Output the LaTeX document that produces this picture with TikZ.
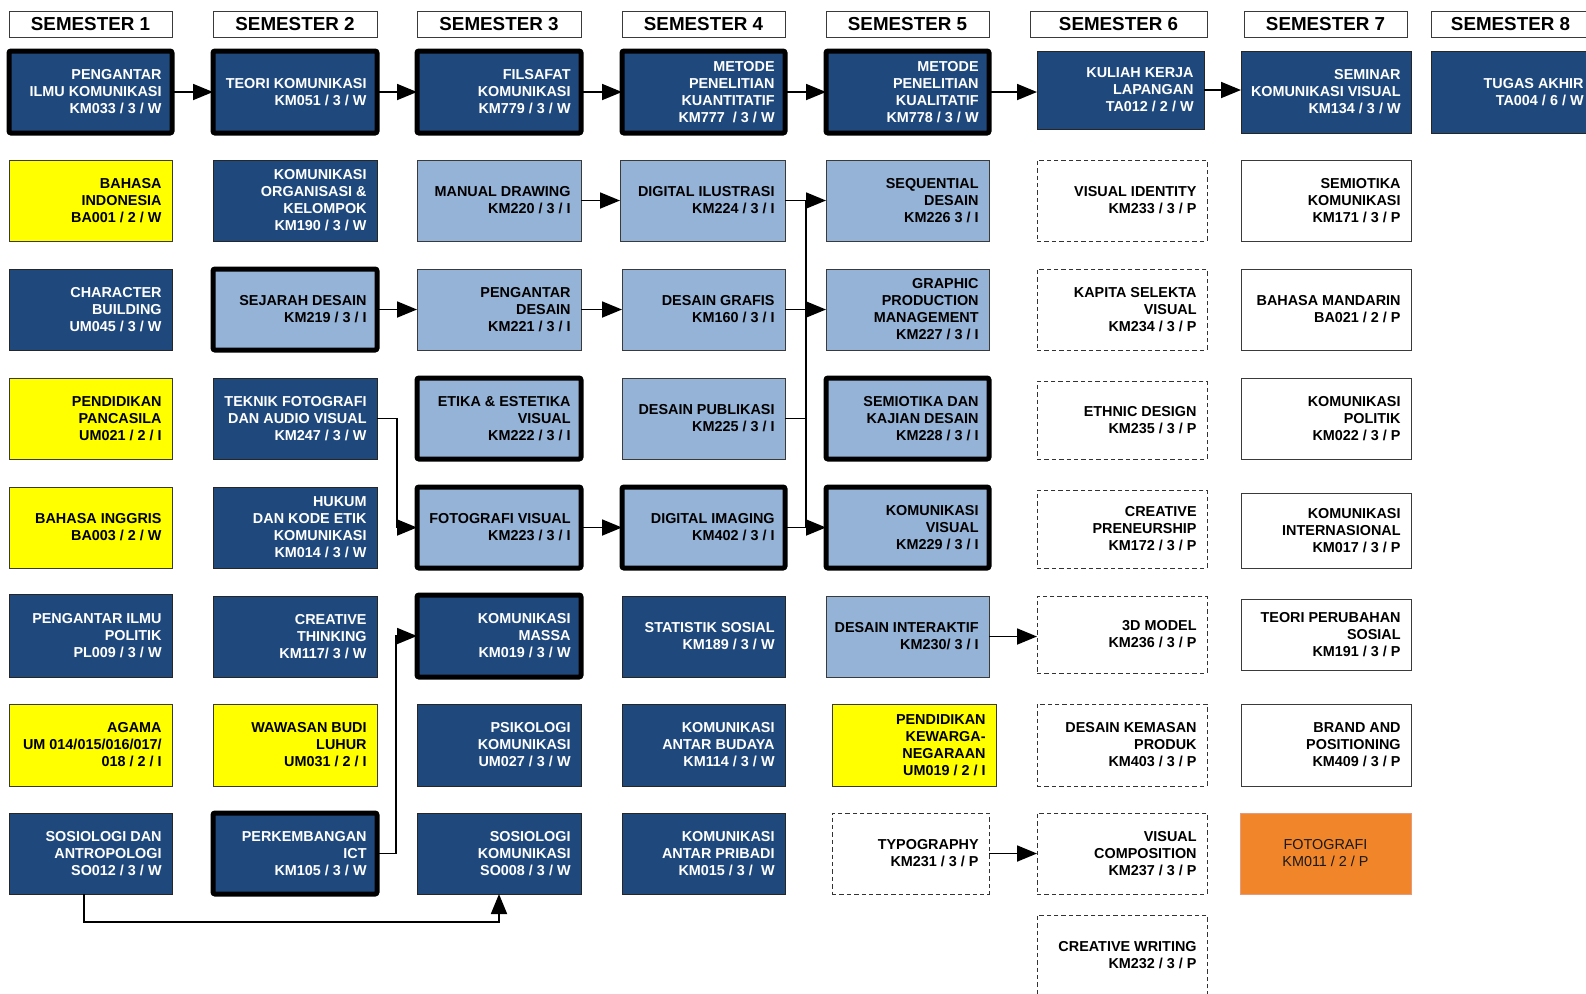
\documentclass[tikz,border=0pt]{standalone}
\usepackage{fontspec}
\setmainfont{Liberation Sans}
\usetikzlibrary{arrows.meta,calc}
\definecolor{dkblue}{HTML}{1F497D}
\definecolor{ltblue}{HTML}{95B3D7}
\definecolor{yel}{HTML}{FFFF00}
\definecolor{orng}{HTML}{F0852A}
\definecolor{orngb}{HTML}{E59A80}
\definecolor{bord}{HTML}{3A3A3A}
\newcommand\crs[8]{% name, x1, y1, x2, y2, box style, text colour, text
  \pgfmathsetlengthmacro\crsw{0.5pt*(#4-#2)}%
  \pgfmathsetlengthmacro\crsh{0.5pt*(#5-#3)}%
  \node[box,#6,minimum width=\crsw,minimum height=\crsh] (#1) at ({(#2+#4)/2},{(#3+#5)/2}) {};
  \node[txt,text=#7] (#1t) at ([xshift=-5pt]#1.east) {#8};}
\newcommand\hdr[4]{%
  \pgfmathsetlengthmacro\crsw{0.5pt*(#3-#2)}%
  \node[hbox,minimum width=\crsw] (#1) at ({(#2+#3)/2},24) {#4};}
\begin{document}
\begin{tikzpicture}[x=0.5pt,y=-0.5pt,
  box/.style={draw=bord,line width=0.5pt,inner sep=0pt,outer sep=0pt},
  txt/.style={anchor=east,align=right,inner sep=0pt,font=\fontsize{7.2}{8.5}\selectfont\bfseries},
  hbox/.style={draw=bord,line width=0.5pt,fill=white,minimum height=13pt,inner sep=0pt,font=\fontsize{9.4}{11}\selectfont\bfseries},
  dk/.style={fill=dkblue,draw=black!85},
  lt/.style={fill=ltblue},
  yl/.style={fill=yel},
  wh/.style={fill=white},
  ds/.style={fill=white,dash pattern=on 2.2pt off 1.5pt,draw=black!80},
  thk/.style={line width=2.5pt,draw=black,rounded corners=1pt},
  org/.style={fill=orng,draw=orngb},
  ln/.style={line width=0.9pt,draw=black},
  arr/.style={ln,-{Triangle[length=10pt,width=8pt]}}]
\useasboundingbox (0,0) rectangle (1586,993);
\clip (0,0) rectangle (1586,993);
\fill[white] (0,0) rectangle (1586,993);
% headers
\hdr{h1}{9}{172}{SEMESTER 1}
\hdr{h2}{213}{377}{SEMESTER 2}
\hdr{h3}{417}{581}{SEMESTER 3}
\hdr{h4}{622}{785}{SEMESTER 4}
\hdr{h5}{826}{989}{SEMESTER 5}
\hdr{h6}{1030}{1207}{SEMESTER 6}
\hdr{h7}{1244}{1407}{SEMESTER 7}
\hdr{h8}{1431}{1590}{SEMESTER 8}
% row 1
\crs{pik}{9}{51}{172}{133}{dk,thk}{white}{PENGANTAR\\ILMU KOMUNIKASI\\KM033 / 3 / W}
\crs{tk}{213}{51}{377}{133}{dk,thk}{white}{TEORI KOMUNIKASI\\KM051 / 3 / W}
\crs{fk}{417}{51}{581}{133}{dk,thk}{white}{FILSAFAT\\KOMUNIKASI\\KM779 / 3 / W}
\crs{mpk}{622}{51}{785}{133}{dk,thk}{white}{METODE\\PENELITIAN\\KUANTITATIF\\KM777 \ / 3 / W}
\crs{mpq}{826}{51}{989}{133}{dk,thk}{white}{METODE\\PENELITIAN\\KUALITATIF\\KM778 / 3 / W}
\crs{kkl}{1037}{51}{1204}{129}{dk}{white}{KULIAH KERJA\\LAPANGAN\\TA012 / 2 / W}
\crs{skv}{1241}{51}{1411}{133}{dk}{white}{SEMINAR\\KOMUNIKASI VISUAL\\KM134 / 3 / W}
\crs{ta}{1431}{51}{1594}{133}{dk}{white}{TUGAS AKHIR\\TA004 / 6 / W}
% row 2
\crs{bi}{9}{160}{172}{241}{yl}{black}{BAHASA\\INDONESIA\\BA001 / 2 / W}
\crs{kok}{213}{160}{377}{241}{dk}{white}{KOMUNIKASI\\ORGANISASI \&\\KELOMPOK\\KM190 / 3 / W}
\crs{md}{417}{160}{581}{241}{lt}{black}{MANUAL DRAWING\\KM220 / 3 / I}
\crs{dil}{620}{160}{785}{241}{lt}{black}{DIGITAL ILUSTRASI\\KM224 / 3 / I}
\crs{sq}{826}{160}{989}{241}{lt}{black}{SEQUENTIAL\\DESAIN\\KM226 3 / I}
\crs{vi}{1037}{160}{1207}{241}{ds}{black}{VISUAL IDENTITY\\KM233 / 3 / P}
\crs{sk7}{1241}{160}{1411}{241}{wh}{black}{SEMIOTIKA\\KOMUNIKASI\\KM171 / 3 / P}
% row 3
\crs{cb}{9}{269}{172}{350}{dk}{white}{CHARACTER\\BUILDING\\UM045 / 3 / W}
\crs{sd}{213}{269}{377}{350}{lt,thk}{black}{SEJARAH DESAIN\\KM219 / 3 / I}
\crs{pd}{417}{269}{581}{350}{lt}{black}{PENGANTAR\\DESAIN\\KM221 / 3 / I}
\crs{dg}{622}{269}{785}{350}{lt}{black}{DESAIN GRAFIS\\KM160 / 3 / I}
\crs{gpm}{826}{269}{989}{350}{lt}{black}{GRAPHIC\\PRODUCTION\\MANAGEMENT\\KM227 / 3 / I}
\crs{ksv}{1037}{269}{1207}{350}{ds}{black}{KAPITA SELEKTA\\VISUAL\\KM234 / 3 / P}
\crs{bm}{1241}{269}{1411}{350}{wh}{black}{BAHASA MANDARIN\\BA021 / 2 / P}
% row 4
\crs{pp}{9}{378}{172}{459}{yl}{black}{PENDIDIKAN\\PANCASILA\\UM021 / 2 / I}
\crs{tf}{213}{378}{377}{459}{dk}{white}{TEKNIK FOTOGRAFI\\DAN AUDIO VISUAL\\KM247 / 3 / W}
\crs{eev}{417}{378}{581}{459}{lt,thk}{black}{ETIKA \& ESTETIKA\\VISUAL\\KM222 / 3 / I}
\crs{dp}{622}{378}{785}{459}{lt}{black}{DESAIN PUBLIKASI\\KM225 / 3 / I}
\crs{skd}{826}{378}{989}{459}{lt,thk}{black}{SEMIOTIKA DAN\\KAJIAN DESAIN\\KM228 / 3 / I}
\crs{ed}{1037}{381}{1207}{459}{ds}{black}{ETHNIC DESIGN\\KM235 / 3 / P}
\crs{kp}{1241}{378}{1411}{459}{wh}{black}{KOMUNIKASI\\POLITIK\\KM022 / 3 / P}
% row 5
\crs{bing}{9}{487}{172}{568}{yl}{black}{BAHASA INGGRIS\\BA003 / 2 / W}
\crs{hk}{213}{487}{377}{568}{dk}{white}{HUKUM\\DAN KODE ETIK\\KOMUNIKASI\\KM014 / 3 / W}
\crs{fv}{417}{487}{581}{568}{lt,thk}{black}{FOTOGRAFI VISUAL\\KM223 / 3 / I}
\crs{dim}{622}{487}{785}{568}{lt,thk}{black}{DIGITAL IMAGING\\KM402 / 3 / I}
\crs{kv}{826}{487}{989}{568}{lt,thk}{black}{KOMUNIKASI\\VISUAL\\KM229 / 3 / I}
\crs{cp}{1037}{490}{1207}{568}{ds}{black}{CREATIVE\\PRENEURSHIP\\KM172 / 3 / P}
\crs{ki}{1241}{493}{1411}{568}{wh}{black}{KOMUNIKASI\\INTERNASIONAL\\KM017 / 3 / P}
% row 6
\crs{pip}{9}{594}{172}{677}{dk}{white}{PENGANTAR ILMU\\POLITIK\\PL009 / 3 / W}
\crs{ct}{213}{596}{377}{677}{dk}{white}{CREATIVE\\THINKING\\KM117/ 3 / W}
\crs{kmas}{417}{595}{581}{677}{dk,thk}{white}{KOMUNIKASI\\MASSA\\KM019 / 3 / W}
\crs{ss}{622}{596}{785}{677}{dk}{white}{STATISTIK SOSIAL\\KM189 / 3 / W}
\crs{dint}{826}{596}{989}{677}{lt}{black}{DESAIN INTERAKTIF\\KM230/ 3 / I}
\crs{dtm}{1037}{596}{1207}{673}{ds}{black}{3D MODEL\\KM236 / 3 / P}
\crs{tps}{1241}{599}{1411}{670}{wh}{black}{TEORI PERUBAHAN\\SOSIAL\\KM191 / 3 / P}
% row 7
\crs{ag}{9}{704}{172}{786}{yl}{black}{AGAMA\\UM 014/015/016/017/\\018 / 2 / I}
\crs{wbl}{213}{704}{377}{786}{yl}{black}{WAWASAN BUDI\\LUHUR\\UM031 / 2 / I}
\crs{psk}{417}{704}{581}{786}{dk}{white}{PSIKOLOGI\\KOMUNIKASI\\UM027 / 3 / W}
\crs{kab}{622}{704}{785}{786}{dk}{white}{KOMUNIKASI\\ANTAR BUDAYA\\KM114 / 3 / W}
\crs{pk}{832}{704}{996}{786}{yl}{black}{PENDIDIKAN\\KEWARGA-\\NEGARAAN\\UM019 / 2 / I}
\crs{dkp}{1037}{704}{1207}{786}{ds}{black}{DESAIN KEMASAN\\PRODUK\\KM403 / 3 / P}
\crs{bap}{1241}{704}{1411}{786}{wh}{black}{BRAND AND\\POSITIONING\\KM409 / 3 / P}
% row 8
\crs{sda}{9}{813}{172}{894}{dk}{white}{SOSIOLOGI DAN\\ANTROPOLOGI\\SO012 / 3 / W}
\crs{ict}{213}{813}{377}{894}{dk,thk}{white}{PERKEMBANGAN\\ICT\\KM105 / 3 / W}
\crs{skom}{417}{813}{581}{894}{dk}{white}{SOSIOLOGI\\KOMUNIKASI\\SO008 / 3 / W}
\crs{kap}{622}{813}{785}{894}{dk}{white}{KOMUNIKASI\\ANTAR PRIBADI\\KM015 / 3 / \ W}
\crs{typo}{832}{813}{989}{894}{ds}{black}{TYPOGRAPHY\\KM231 / 3 / P}
\crs{vc}{1037}{813}{1207}{894}{ds}{black}{VISUAL\\COMPOSITION\\KM237 / 3 / P}
\pgfmathsetlengthmacro\crsw{0.5pt*(1411-1240)}
\pgfmathsetlengthmacro\crsh{0.5pt*(894-813)}
\node[box,org,minimum width=\crsw,minimum height=\crsh,align=center,
  font=\fontsize{7.2}{8.5}\selectfont,text=black!90] (foto) at (1325.5,853.5) {FOTOGRAFI\\KM011 / 2 / P};
% row 9
\crs{cw}{1037}{915}{1207}{996}{ds}{black}{CREATIVE WRITING\\KM232 / 3 / P}
% connectors row 1
\draw[arr] (pik.east) -- (pik.east -| tk.west);
\draw[arr] (tk.east) -- (tk.east -| fk.west);
\draw[arr] (fk.east) -- (fk.east -| mpk.west);
\draw[arr] (mpk.east) -- (mpk.east -| mpq.west);
\draw[arr] (mpq.east) -- (mpq.east -| kkl.west);
\draw[arr] (kkl.east) -- (kkl.east -| skv.west);
% design chain
\draw[arr] (md.east) -- (md.east -| dil.west);
\draw[arr] (dil.east) -- (dil.east -| sq.west);
\draw[arr] (sd.east) -- (sd.east -| pd.west);
\draw[arr] (pd.east) -- (pd.east -| dg.west);
\coordinate (bx) at (806,0);
\draw[ln] (dil.east -| bx) -- (dim.east -| bx);
\draw[arr] (dg.east) -- (dg.east -| gpm.west);
\draw[ln] (dp.east) -- (dp.east -| bx);
\draw[arr] (dim.east) -- (dim.east -| kv.west);
\draw[arr] (fv.east) -- (fv.east -| dim.west);
\draw[arr] (tf.east) -- ++(20,0) |- (fv.west);
\draw[arr] (ict.east) -- ++(19,0) |- (kmas.west);
\draw[arr] ([xshift=-3.25pt]sda.south) -- ++(0,28) -| (skom.south);
\draw[arr] (dint.east) -- (dint.east -| dtm.west);
\draw[arr] (typo.east) -- (typo.east -| vc.west);
\end{tikzpicture}
\end{document}
